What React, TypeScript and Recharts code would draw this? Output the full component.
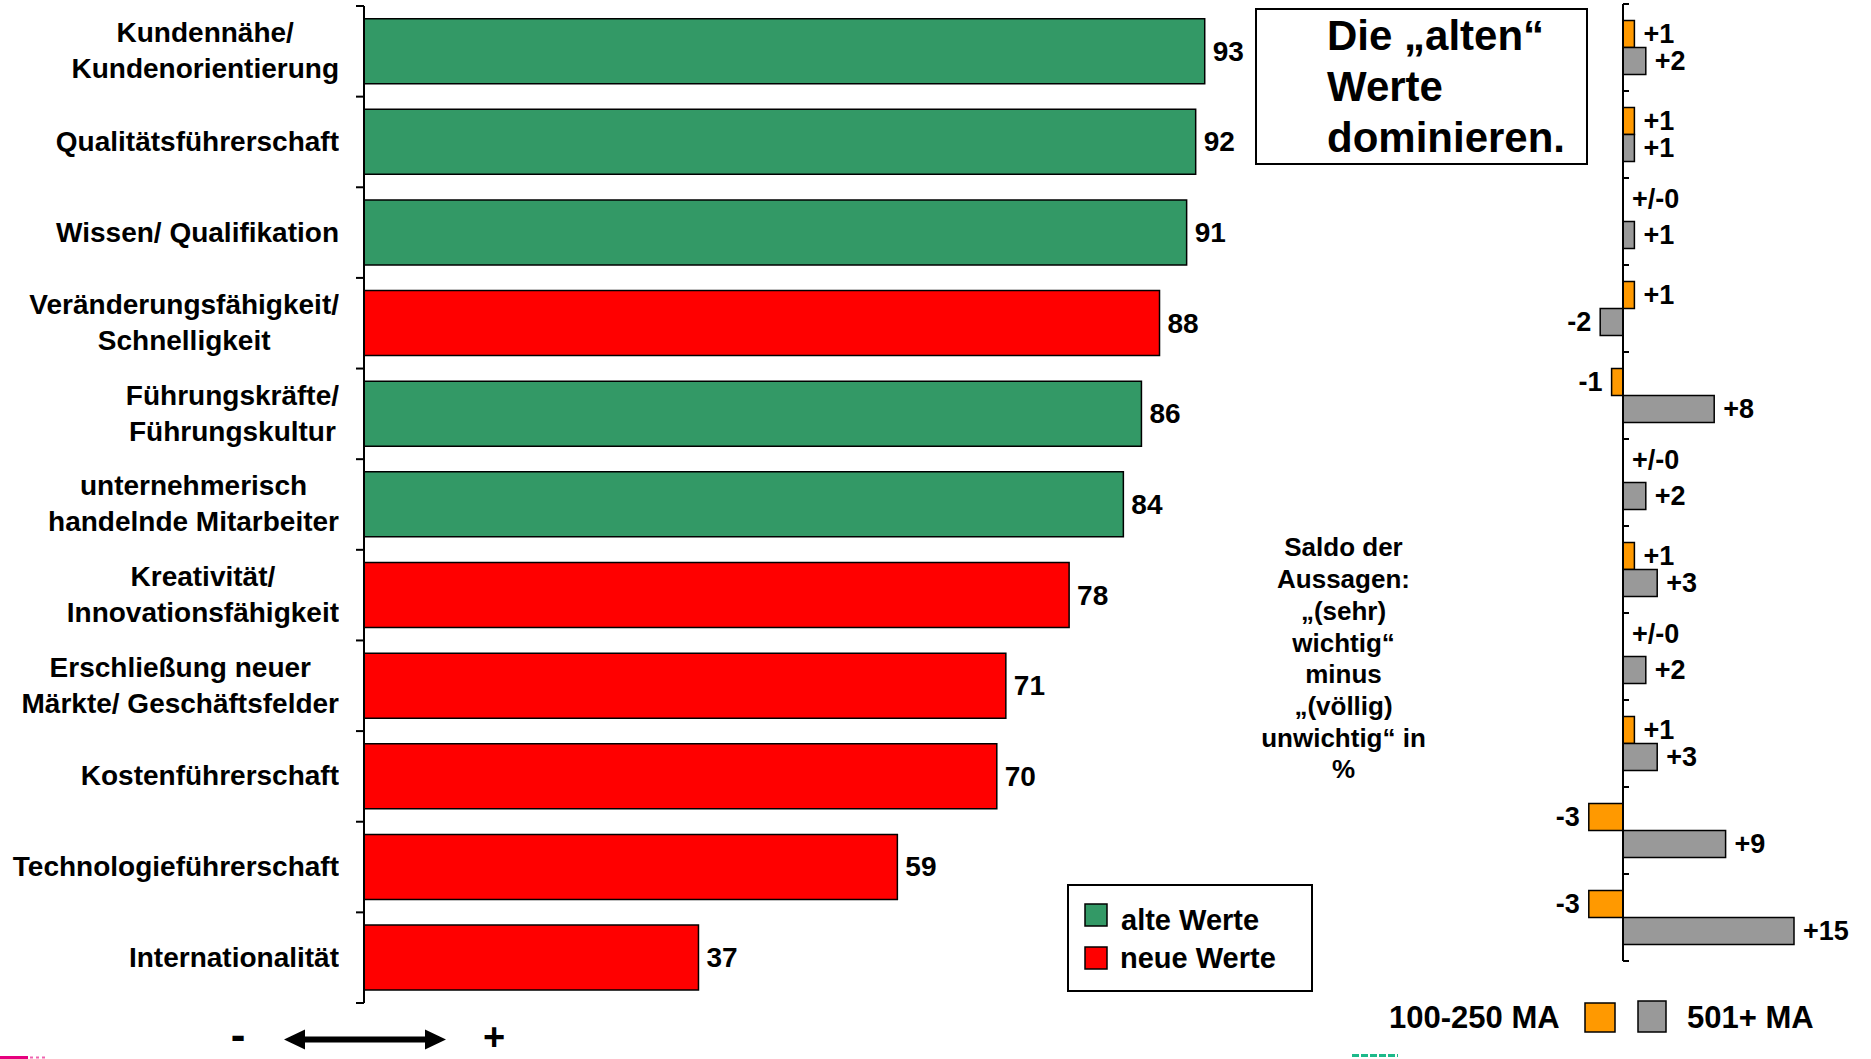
import React from 'react'
import { BarChart, Bar, XAxis, YAxis, Cell, LabelList, ReferenceLine } from 'recharts'

const FONT = '"Liberation Sans", Arial, Helvetica, sans-serif'

// Strategic values, ranked by importance (top to bottom)
const CATEGORIES = [
  'Kundennähe/\nKundenorientierung',
  'Qualitätsführerschaft',
  'Wissen/ Qualifikation',
  'Veränderungsfähigkeit/\nSchnelligkeit',
  'Führungskräfte/\nFührungskultur',
  'unternehmerisch\nhandelnde Mitarbeiter',
  'Kreativität/\nInnovationsfähigkeit',
  'Erschließung neuer\nMärkte/ Geschäftsfelder',
  'Kostenführerschaft',
  'Technologieführerschaft',
  'Internationalität',
]
const SCORES = [93, 92, 91, 88, 86, 84, 78, 71, 70, 59, 37]
const VALUE_GROUP = ['alt', 'alt', 'alt', 'neu', 'alt', 'alt', 'neu', 'neu', 'neu', 'neu', 'neu']

// Saldo per company size
const SALDO_100_250 = [1, 1, 0, 1, -1, 0, 1, 0, 1, -3, -3]
const SALDO_501 = [2, 1, 1, -2, 8, 2, 3, 2, 3, 9, 15]

const SALDO_TEXT = [
  'Saldo der',
  'Aussagen:',
  '„(sehr)',
  'wichtig“',
  'minus',
  '„(völlig)',
  'unwichtig“ in',
  '%',
]
const HEADLINE = ['Die „alten“', 'Werte', 'dominieren.']

const GROUP_COLORS: Record<string, string> = { alt: '#339966', neu: '#FF0000' }
const ORANGE = '#FF9900'
const GRAY = '#999999'

const mainData = CATEGORIES.map((name, i) => ({ name, score: SCORES[i], group: VALUE_GROUP[i] }))
const saldoData = CATEGORIES.map((name, i) => ({ name, small: SALDO_100_250[i], large: SALDO_501[i] }))

// main chart geometry
const MAIN_W = 1300
const MAIN_H = 1059
const MAIN_MARGIN = { top: 6, right: 32, bottom: 56, left: 0 }
const MAIN_AXIS_W = 364
const MAIN_BAND = (MAIN_H - MAIN_MARGIN.top - MAIN_MARGIN.bottom) / CATEGORIES.length

// saldo chart geometry
const SALDO_LEFT = 1500
const SALDO_W = 371
const SALDO_H = 1059
const SALDO_MARGIN = { top: 4, right: 20, bottom: 98, left: 0 }
const SALDO_AXIS_W = 66
const SALDO_DOMAIN: [number, number] = [-5, 20]
const SALDO_GAP = 0.19
const SALDO_PLOT_W = SALDO_W - SALDO_AXIS_W - SALDO_MARGIN.right
const SALDO_ZERO = (SALDO_PLOT_W * (0 - SALDO_DOMAIN[0])) / (SALDO_DOMAIN[1] - SALDO_DOMAIN[0])
const SALDO_BAND = (SALDO_H - SALDO_MARGIN.top - SALDO_MARGIN.bottom) / CATEGORIES.length
const SALDO_BAR = (SALDO_BAND * (1 - 2 * SALDO_GAP)) / 2

const LAST = CATEGORIES[CATEGORIES.length - 1]

const fmtSaldo = (v: number) => (v > 0 ? `+${v}` : v < 0 ? `${v}` : '+/-0')

function CategoryTick(props: any) {
  const { x, y, payload } = props
  const half = MAIN_BAND / 2
  return (
    <g>
      <line x1={x - 8} x2={x} y1={y - half} y2={y - half} stroke="#000" strokeWidth={2} />
      {payload.value === LAST && (
        <line x1={x - 8} x2={x} y1={y + half} y2={y + half} stroke="#000" strokeWidth={2} />
      )}
      <foreignObject x={x - MAIN_AXIS_W} y={y - half} width={MAIN_AXIS_W - 25} height={MAIN_BAND}>
        <div
          style={{
            width: '100%',
            height: '100%',
            display: 'flex',
            alignItems: 'center',
            justifyContent: 'flex-end',
          }}
        >
          <div
            style={{
              textAlign: 'center',
              whiteSpace: 'pre-line',
              fontFamily: FONT,
              fontWeight: 'bold',
              fontSize: 28,
              lineHeight: '36px',
              color: '#000',
            }}
          >
            {payload.value}
          </div>
        </div>
      </foreignObject>
    </g>
  )
}

// boundary ticks on the zero line; a zero saldo has no bar, so its
// "+/-0" label is placed here next to the empty orange slot
function SaldoTick(props: any) {
  const { x, y, payload, index } = props
  const half = SALDO_BAND / 2
  const zx = x + SALDO_ZERO
  const i = typeof index === 'number' ? index : CATEGORIES.indexOf(payload.value)
  const small = SALDO_100_250[i]
  return (
    <g>
      <line x1={zx} x2={zx + 6} y1={y - half} y2={y - half} stroke="#000" strokeWidth={2} />
      {payload.value === LAST && (
        <line x1={zx} x2={zx + 6} y1={y + half} y2={y + half} stroke="#000" strokeWidth={2} />
      )}
      {small === 0 && (
        <text
          x={zx + 9}
          y={y - SALDO_BAR / 2 - 9}
          dominantBaseline="central"
          fontFamily={FONT}
          fontWeight="bold"
          fontSize={27}
          fill="#000"
        >
          {fmtSaldo(small)}
        </text>
      )}
    </g>
  )
}

const renderScore = (props: any) => {
  const x = Number(props.x)
  const y = Number(props.y)
  const w = Number(props.width)
  const h = Number(props.height)
  return (
    <text
      x={x + w + 8}
      y={y + h / 2}
      dominantBaseline="central"
      fontFamily={FONT}
      fontWeight="bold"
      fontSize={28}
      fill="#000"
    >
      {props.value}
    </text>
  )
}

const renderSaldo = (props: any) => {
  const v = Number(props.value)
  if (v === 0) return null
  const x = Number(props.x)
  const y = Number(props.y)
  const w = Number(props.width)
  const h = Number(props.height)
  const left = Math.min(x, x + w)
  const right = Math.max(x, x + w)
  const neg = v < 0
  return (
    <text
      x={neg ? left - 9 : right + 9}
      y={y + h / 2}
      textAnchor={neg ? 'end' : 'start'}
      dominantBaseline="central"
      fontFamily={FONT}
      fontWeight="bold"
      fontSize={27}
      fill="#000"
    >
      {fmtSaldo(v)}
    </text>
  )
}

const txt = { fontFamily: FONT, fontWeight: 'bold' as const, fill: '#000' }

export default function App() {
  return (
    <div
      style={{
        position: 'absolute',
        left: 0,
        top: 0,
        width: 1871,
        height: 1059,
        background: '#fff',
        overflow: 'hidden',
      }}
    >
      <div style={{ position: 'absolute', left: 0, top: 0 }}>
        <BarChart
          width={MAIN_W}
          height={MAIN_H}
          layout="vertical"
          data={mainData}
          margin={MAIN_MARGIN}
          barCategoryGap="14%"
        >
          <XAxis type="number" domain={[0, 100]} hide />
          <YAxis
            type="category"
            dataKey="name"
            width={MAIN_AXIS_W}
            interval={0}
            axisLine={{ stroke: '#000', strokeWidth: 2 }}
            tickLine={false}
            tickSize={0}
            tickMargin={0}
            tick={<CategoryTick />}
          />
          <Bar dataKey="score" stroke="#000" strokeWidth={1.5} isAnimationActive={false}>
            {mainData.map((d) => (
              <Cell key={d.name} fill={GROUP_COLORS[d.group]} />
            ))}
            <LabelList dataKey="score" content={renderScore} />
          </Bar>
        </BarChart>
      </div>

      <div style={{ position: 'absolute', left: SALDO_LEFT, top: 0 }}>
        <BarChart
          width={SALDO_W}
          height={SALDO_H}
          layout="vertical"
          data={saldoData}
          margin={SALDO_MARGIN}
          barCategoryGap={`${SALDO_GAP * 100}%`}
          barGap={0}
        >
          <XAxis type="number" domain={SALDO_DOMAIN} hide />
          <YAxis
            type="category"
            dataKey="name"
            width={SALDO_AXIS_W}
            interval={0}
            axisLine={false}
            tickLine={false}
            tickSize={0}
            tickMargin={0}
            tick={<SaldoTick />}
          />
          <Bar dataKey="small" fill={ORANGE} stroke="#000" strokeWidth={1.5} isAnimationActive={false}>
            <LabelList dataKey="small" content={renderSaldo} />
          </Bar>
          <Bar dataKey="large" fill={GRAY} stroke="#000" strokeWidth={1.5} isAnimationActive={false}>
            <LabelList dataKey="large" content={renderSaldo} />
          </Bar>
          <ReferenceLine x={0} stroke="#000" strokeWidth={2} />
        </BarChart>
      </div>

      <svg
        width={1871}
        height={1059}
        style={{ position: 'absolute', left: 0, top: 0, pointerEvents: 'none' }}
      >
        {/* headline box */}
        <rect x={1256} y={9} width={331} height={155} fill="#fff" stroke="#000" strokeWidth={2} />
        {HEADLINE.map((line, i) => (
          <text key={line} x={1327} y={50 + i * 50.8} fontSize={42} {...txt}>
            {line}
          </text>
        ))}

        {/* saldo note */}
        {SALDO_TEXT.map((line, i) => (
          <text key={line} x={1343.5} y={556.4 + i * 31.7} fontSize={26} textAnchor="middle" {...txt}>
            {line}
          </text>
        ))}

        {/* legend: alte / neue Werte */}
        <rect x={1068} y={885} width={244} height={106} fill="#fff" stroke="#000" strokeWidth={2} />
        <rect x={1085} y={904} width={22} height={22} fill={GROUP_COLORS.alt} stroke="#000" strokeWidth={1.5} />
        <rect x={1085} y={947} width={22} height={22} fill={GROUP_COLORS.neu} stroke="#000" strokeWidth={1.5} />
        <text x={1121} y={920} fontSize={29} dominantBaseline="central" {...txt}>
          alte Werte
        </text>
        <text x={1120} y={958} fontSize={29} dominantBaseline="central" {...txt}>
          neue Werte
        </text>

        {/* legend: company size */}
        <text x={1389} y={1017} fontSize={31} dominantBaseline="central" {...txt}>
          100-250 MA
        </text>
        <rect x={1585} y={1003} width={30} height={29} fill={ORANGE} stroke="#000" strokeWidth={1.5} />
        <rect x={1638} y={1001} width={28} height={31} fill={GRAY} stroke="#000" strokeWidth={1.5} />
        <text x={1687} y={1017} fontSize={31} dominantBaseline="central" {...txt}>
          501+ MA
        </text>

        {/* importance scale */}
        <text x={238} y={1050} fontSize={44} textAnchor="middle" {...txt}>
          -
        </text>
        <path
          d="M284,1039.5 L305,1029.5 L305,1036.5 L425,1036.5 L425,1029.5 L446,1039.5 L425,1049.5 L425,1042.5 L305,1042.5 L305,1049.5 Z"
          fill="#000"
        />
        <text x={494} y={1050} fontSize={38} textAnchor="middle" {...txt}>
          +
        </text>

        {/* footer logos, cut off at the bottom edge */}
        <rect x={0} y={1056} width={28} height={3} fill="#E6007E" />
        <line x1={30} x2={45} y1={1057.5} y2={1057.5} stroke="#E6007E" strokeWidth={2} strokeDasharray="3 3" opacity={0.6} />
        <line x1={1352} x2={1398} y1={1055.5} y2={1055.5} stroke="#1DB98A" strokeWidth={3} strokeDasharray="7 2" />
      </svg>
    </div>
  )
}
